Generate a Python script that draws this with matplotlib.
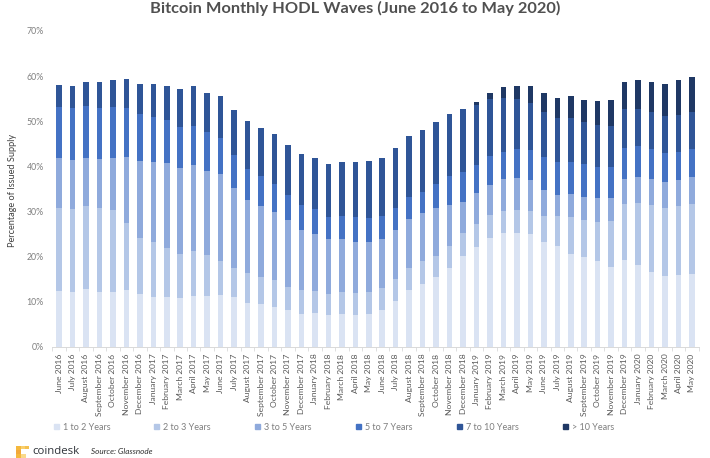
import matplotlib
matplotlib.use("Agg")
import matplotlib.pyplot as plt
from matplotlib.patches import Rectangle, Patch
import numpy as np

months = ["June 2016", "July 2016", "August 2016", "September 2016", "October 2016", "November 2016",
          "December 2016", "January 2017", "February 2017", "March 2017", "April 2017", "May 2017",
          "June 2017", "July 2017", "August 2017", "September 2017", "October 2017", "November 2017",
          "December 2017", "January 2018", "February 2018", "March 2018", "April 2018", "May 2018",
          "June 2018", "July 2018", "August 2018", "September 2018", "October 2018", "November 2018",
          "December 2018", "January 2019", "February 2019", "March 2019", "April 2019", "May 2019",
          "June 2019", "July 2019", "August 2019", "September 2019", "October 2019", "November 2019",
          "December 2019", "January 2020", "February 2020", "March 2020", "April 2020", "May 2020"]

# running totals: top edge of each band, in percent
top_1_2 = [12.4, 12.2, 12.7, 12.2, 12.2, 12.5, 11.6, 11.0, 11.0, 10.8, 11.2, 11.2,
           11.5, 11.1, 9.8, 9.5, 8.9, 8.1, 7.3, 7.5, 7.0, 7.2, 7.0, 7.3,
           8.1, 10.2, 12.6, 13.9, 15.4, 17.5, 20.1, 22.0, 24.2, 25.1, 25.1, 25.0,
           23.3, 22.3, 20.6, 19.8, 18.9, 17.7, 19.3, 18.2, 16.6, 15.7, 15.9, 16.2]
top_2_3 = [30.8, 30.6, 31.1, 30.8, 30.2, 27.4, 24.2, 23.3, 21.9, 20.5, 21.3, 20.4,
           19.1, 17.5, 16.3, 15.4, 14.8, 13.2, 12.5, 12.4, 11.7, 12.1, 11.8, 12.2,
           13.0, 15.0, 17.5, 18.9, 20.1, 22.3, 25.1, 27.3, 29.1, 30.1, 30.4, 30.1,
           29.0, 29.0, 28.7, 28.0, 27.6, 27.8, 31.7, 31.9, 31.5, 30.8, 31.3, 31.7]
top_3_5 = [41.8, 41.3, 41.8, 41.7, 41.8, 42.1, 41.2, 41.0, 40.8, 39.7, 40.3, 39.0,
           38.3, 35.1, 32.5, 31.3, 29.9, 28.1, 25.9, 25.0, 23.9, 23.8, 23.2, 23.2,
           23.9, 25.9, 28.4, 29.6, 30.8, 31.4, 32.1, 34.0, 35.8, 37.1, 37.3, 36.9,
           34.7, 33.6, 33.9, 33.2, 32.9, 32.9, 37.1, 37.6, 37.1, 36.6, 37.0, 37.7]
top_5_7 = [53.1, 52.9, 53.4, 52.9, 53.1, 53.0, 51.5, 51.0, 50.3, 48.8, 49.0, 47.5,
           46.3, 42.5, 39.5, 37.9, 36.1, 33.6, 31.4, 30.5, 28.8, 29.0, 28.7, 28.5,
           29.0, 30.7, 33.1, 34.4, 36.1, 37.9, 38.8, 40.3, 42.3, 43.2, 43.8, 43.6,
           42.1, 40.9, 41.0, 40.5, 39.9, 39.9, 44.0, 44.4, 43.9, 43.0, 43.2, 43.9]
top_7_10 = [58.0, 57.8, 58.6, 58.6, 59.1, 59.4, 58.3, 58.2, 57.9, 57.1, 57.7, 56.3,
            55.5, 52.5, 50.0, 48.6, 47.2, 44.8, 42.7, 41.9, 40.6, 40.9, 40.9, 41.1,
            41.9, 44.1, 46.8, 48.1, 49.8, 51.7, 52.6, 53.7, 54.9, 55.2, 54.9, 54.0,
            52.1, 50.7, 50.7, 49.8, 49.2, 49.0, 52.8, 52.8, 52.1, 51.2, 51.4, 52.1]
top_over_10 = [58.0, 57.8, 58.6, 58.6, 59.1, 59.4, 58.3, 58.2, 57.9, 57.1, 57.7, 56.3,
               55.5, 52.5, 50.0, 48.6, 47.2, 44.8, 42.7, 41.9, 40.6, 40.9, 40.9, 41.1,
               41.9, 44.1, 46.8, 48.1, 49.8, 51.7, 52.6, 54.3, 56.3, 57.5, 57.9, 57.7,
               56.3, 55.1, 55.5, 54.8, 54.5, 54.7, 58.8, 59.2, 58.8, 58.3, 59.1, 59.9]

band_tops = [top_1_2, top_2_3, top_3_5, top_5_7, top_7_10, top_over_10]
band_labels = ["1 to 2 Years", "2 to 3 Years", "3 to 5 Years", "5 to 7 Years", "7 to 10 Years", "> 10 Years"]
band_colors = ["#DAE3F3", "#B4C7E7", "#8FAADC", "#4472C4", "#2F5597", "#1F3864"]
legend_x = [54, 154, 255, 356, 457, 563]

W, H = 710, 458
plt.rcParams['font.family'] = ['Lato', 'DejaVu Sans']
fig = plt.figure(figsize=(W / 100, H / 100), dpi=100)
ax = fig.add_axes([52.3 / W, (H - 346.7) / H, 646.4 / W, 315.7 / H])

x = np.arange(len(months))
bottom = np.zeros(len(months))
for tops, label, color in zip(band_tops, band_labels, band_colors):
    tops = np.array(tops)
    ax.bar(x, tops - bottom, 0.41, bottom=bottom, color=color, label=label, linewidth=0)
    bottom = tops

ax.set_xlim(-0.5, len(months) - 0.5)
ax.set_ylim(0, 70)
ax.set_yticks(np.arange(0, 71, 10))
ax.set_yticklabels([f"{v}%" for v in range(0, 71, 10)], fontsize=6.3, color="#7f7f7f")
ax.set_xticks(x)
ax.set_xticklabels(months, rotation=90, fontsize=6.1, color="#595959")
ax.tick_params(axis='y', length=0, pad=6)
ax.tick_params(axis='x', length=0, pad=5)
ax.set_xticks(np.arange(-0.5, len(months)), minor=True)
ax.tick_params(axis='x', which='minor', length=3, width=0.6, color="#d9d9d9")
for side in ["top", "left", "right"]:
    ax.spines[side].set_visible(False)
ax.spines["bottom"].set_color("#d9d9d9")
ax.spines["bottom"].set_linewidth(0.7)

fig.text(355 / W, 1 - 8 / H, "Bitcoin Monthly HODL Waves (June 2016 to May 2020)",
         ha='center', va='center', fontsize=11.8, fontweight='bold', color="#505050")
fig.text(13 / W, 1 - 190 / H, "Percentage of Issued Supply", rotation=90,
         ha='center', va='center', fontsize=6.6, color="#404040")

# one small legend per entry, the columns are evenly spaced in the original
for lx, label, color in zip(legend_x, band_labels, band_colors):
    fig.legend(handles=[Patch(color=color, label=label)], loc='center left',
               bbox_to_anchor=(lx / W, 1 - 427 / H), frameon=False, fontsize=6.5,
               labelcolor="#7f7f7f", handlelength=0.55, handleheight=0.55,
               handletextpad=0.45, borderpad=0, borderaxespad=0)

# coindesk mark
for rx, ry, rw, rh, rc in [(16, 446, 5, 4, "#F5B83D"), (21, 446, 4, 3, "#F8CF6E"), (25, 446, 4, 3, "#F5C04F"),
                           (16, 450, 5, 4, "#F2A93B"), (16, 454, 5, 4, "#F5B83D"), (21, 454, 5, 4, "#F9D98C")]:
    fig.add_artist(Rectangle((rx / W, 1 - (ry + rh) / H), rw / W, rh / H, transform=fig.transFigure,
                             facecolor=rc, linewidth=0))
fig.text(32 / W, 1 - 451.5 / H, "coindesk", ha='left', va='center', fontsize=8.2,
         color="#30343a", family=['Open Sans', 'DejaVu Sans'])
fig.text(91 / W, 1 - 451.5 / H, "Source: Glassnode", ha='left', va='center', fontsize=5.9,
         fontstyle='italic', color="#303030")

fig.savefig("out.png", dpi=100)
